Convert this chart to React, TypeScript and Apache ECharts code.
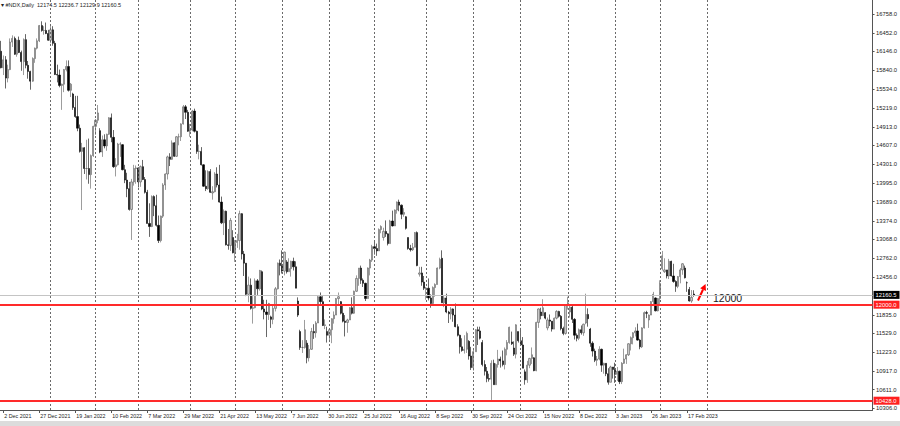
import React, { useEffect, useRef } from "react";
import * as echarts from "echarts";

// ---- categories ----
const FIRST_DAY = "2021-12-01";
const TOTAL_SLOTS = 388;
const HOLIDAYS = [
  "2021-12-24", "2022-01-17", "2022-02-21", "2022-04-15", "2022-05-30", "2022-06-20",
  "2022-07-04", "2022-09-05", "2022-11-24", "2022-12-26", "2023-01-02", "2023-01-16", "2023-02-20",
];
const MONTHS = ["Jan", "Feb", "Mar", "Apr", "May", "Jun", "Jul", "Aug", "Sep", "Oct", "Nov", "Dec"];

// ---- OHLC values [open, high, low, close] ----
const dec2021 = [
  [16150, 16320, 15870, 15880], [15880, 16080, 15760, 16010], [16010, 16070, 15540, 15710],
  [15710, 15930, 15640, 15850], [15850, 16360, 15840, 16300], [16300, 16410, 16220, 16360],
  [16360, 16390, 16090, 16100], [16100, 16340, 16060, 16330], [16330, 16390, 16120, 16130],
  [16130, 16160, 15830, 15980], [15980, 16360, 15760, 16340], [16340, 16430, 15870, 15920],
  [15920, 15990, 15700, 15820], [15820, 15830, 15520, 15660], [15660, 16050, 15650, 16030],
  [16030, 16210, 15960, 16200], [16200, 16360, 16180, 16320], [16320, 16580, 16300, 16570],
  [16570, 16640, 16470, 16490], [16490, 16560, 16420, 16490], [16490, 16620, 16430, 16440],
  [16440, 16500, 16320, 16330],
];
const jan2022 = [
  [16330, 16580, 16280, 16500], [16500, 16560, 16240, 16280], [16280, 16320, 15760, 15770],
  [15770, 15930, 15640, 15760], [15760, 15850, 15560, 15590], [15590, 15620, 15190, 15610],
  [15610, 15860, 15480, 15850], [15850, 16000, 15820, 15900], [15900, 16000, 15490, 15510],
  [15510, 15630, 15400, 15610], [15450, 15470, 15190, 15230], [15230, 15420, 15060, 15080],
  [15080, 15420, 14840, 14890], [14890, 14950, 14490, 14510], [14510, 14650, 13550, 14570],
  [14570, 14580, 14140, 14230], [14230, 14700, 14050, 14230], [14230, 14720, 13980, 14130],
  [14130, 14460, 13900, 14440], [14440, 14930, 14420, 14920],
];
const feb2022 = [
  [14920, 15040, 14780, 15020], [15020, 15270, 14970, 15140], [14850, 14890, 14480, 14500],
  [14500, 14770, 14420, 14700], [14700, 14790, 14560, 14600], [14600, 14800, 14520, 14790],
  [14790, 15070, 14780, 15060], [15060, 15130, 14660, 14740], [14740, 14860, 14240, 14260],
  [14260, 14400, 14100, 14290], [14290, 14650, 14280, 14630], [14630, 14660, 14420, 14630],
  [14620, 14630, 14200, 14210], [14210, 14290, 13990, 14040], [14040, 14160, 13760, 13900],
  [13900, 14010, 13540, 13560], [13560, 14060, 13060, 14010], [14010, 14290, 13950, 14230],
  [14230, 14280, 13980, 14240],
];
const mar2022 = [
  [14240, 14250, 13920, 14010], [14010, 14280, 13930, 14260], [14260, 14370, 14040, 14050],
  [14050, 14090, 13820, 13840], [13840, 13880, 13330, 13330], [13330, 13660, 13110, 13280],
  [13280, 13790, 13270, 13770], [13770, 13790, 13450, 13620], [13620, 13800, 13280, 13300],
  [13300, 13460, 13010, 13050], [13050, 13460, 13020, 13450], [13450, 13990, 13420, 13960],
  [13960, 14150, 13880, 14140], [14140, 14440, 14050, 14420], [14420, 14480, 14270, 14380],
  [14380, 14690, 14370, 14650], [14650, 14660, 14420, 14430], [14430, 14760, 14420, 14750],
  [14750, 14800, 14610, 14750], [14750, 14970, 14680, 14960], [14960, 15270, 14950, 15240],
  [15240, 15270, 15040, 15150], [15150, 15190, 14830, 14840],
];
const apr2022 = [
  [14840, 14960, 14750, 14860], [14860, 15190, 14840, 15170], [15170, 15210, 14820, 14840],
  [14840, 14850, 14470, 14510], [14510, 14620, 14380, 14510], [14510, 14580, 14280, 14290],
  [14290, 14300, 13930, 13940], [13940, 14200, 13860, 13900], [13900, 14200, 13880, 14180],
  [14180, 14220, 13830, 13840], [13830, 13940, 13720, 13850], [13850, 14170, 13840, 14140],
  [14140, 14250, 13920, 13960], [13960, 14290, 13670, 13680], [13680, 13770, 13320, 13340],
  [13340, 13560, 13140, 13530], [13530, 13540, 12970, 12980], [12980, 13240, 12900, 12970],
  [12970, 13420, 12880, 13380], [13100, 13220, 12840, 12850],
];
const may2022 = [
  [12850, 13060, 12700, 13020], [13020, 13160, 12930, 13050], [13050, 13540, 12900, 13490],
  [13490, 13500, 12740, 12830], [12830, 12880, 12470, 12680], [12680, 12680, 12140, 12170],
  [12170, 12460, 12040, 12320], [12320, 12430, 11920, 11940], [11940, 12140, 11690, 11950],
  [11950, 12430, 11940, 12390], [12390, 12420, 12160, 12260], [12260, 12570, 12230, 12560],
  [12540, 12560, 11910, 11930], [11930, 12080, 11760, 11880], [11880, 12080, 11470, 11840],
  [11840, 12030, 11750, 12020], [11800, 11820, 11620, 11760], [11760, 11990, 11680, 11940],
  [11940, 12290, 11890, 12260], [12260, 12690, 12250, 12680], [12680, 12740, 12480, 12640],
];
const jun2022 = [
  [12640, 12890, 12510, 12550], [12550, 12870, 12480, 12860], [12700, 12730, 12510, 12540],
  [12540, 12760, 12540, 12590], [12590, 12720, 12460, 12710], [12710, 12770, 12560, 12620],
  [12620, 12710, 12270, 12270], [12060, 12120, 11800, 11830], [11560, 11590, 11260, 11300],
  [11300, 11420, 11210, 11300], [11300, 11750, 11280, 11590], [11370, 11420, 11040, 11130],
  [11130, 11340, 11070, 11270], [11270, 11620, 11260, 11560], [11560, 11680, 11440, 11540],
  [11540, 11730, 11460, 11700], [11700, 12140, 11700, 12130], [12130, 12200, 11980, 12050],
  [12050, 12140, 11650, 11660], [11660, 11760, 11600, 11670], [11560, 11640, 11380, 11500],
];
const jul2022 = [
  [11500, 11600, 11400, 11590], [11590, 11780, 11370, 11770], [11770, 11890, 11690, 11830],
  [11830, 12110, 11830, 12100], [12100, 12200, 11980, 12130], [12050, 12060, 11840, 11860],
  [11860, 11990, 11710, 11730], [11730, 11830, 11480, 11710], [11710, 11770, 11540, 11750],
  [11750, 11960, 11750, 11950], [11950, 12120, 11840, 11860], [11860, 12230, 11850, 12220],
  [12220, 12480, 12210, 12430], [12430, 12600, 12310, 12600], [12600, 12640, 12340, 12400],
  [12400, 12430, 12290, 12350], [12350, 12360, 12060, 12100], [12100, 12610, 12100, 12600],
  [12600, 12750, 12480, 12730], [12730, 12980, 12700, 12950],
];
const aug2022 = [
  [12950, 13050, 12820, 12920], [12920, 13000, 12800, 12880], [12880, 13250, 12880, 13230],
  [13230, 13300, 13170, 13280], [13100, 13260, 13050, 13200], [13200, 13380, 13110, 13160],
  [13160, 13170, 12970, 13000], [13000, 13390, 13000, 13370], [13370, 13540, 13280, 13290],
  [13290, 13560, 13290, 13550], [13550, 13690, 13490, 13680], [13680, 13720, 13530, 13630],
  [13630, 13640, 13400, 13480], [13480, 13580, 13440, 13510], [13440, 13450, 13230, 13250],
  [13100, 13100, 12900, 12920], [12920, 12980, 12870, 12900], [12900, 13010, 12880, 12940],
  [12940, 13190, 12940, 13180], [13180, 13200, 12630, 12640], [12500, 12620, 12460, 12520],
  [12520, 12620, 12310, 12370], [12370, 12470, 12240, 12270],
];
const sep2022 = [
  [12270, 12290, 12080, 12270], [12270, 12430, 12070, 12110], [12110, 12170, 11950, 12020],
  [12020, 12300, 11990, 12280], [12280, 12350, 12130, 12330], [12330, 12610, 12330, 12600],
  [12600, 12770, 12580, 12740], [12760, 12890, 12030, 12030], [12030, 12150, 11960, 12110],
  [12110, 12180, 11860, 11880], [11880, 11900, 11700, 11850], [11850, 11960, 11760, 11930],
  [11930, 11940, 11720, 11830], [11830, 12020, 11630, 11640], [11640, 11680, 11480, 11500],
  [11500, 11510, 11200, 11310], [11310, 11450, 11230, 11250], [11250, 11500, 11200, 11270],
  [11270, 11560, 11210, 11530], [11400, 11420, 11100, 11160], [11160, 11310, 10930, 10970],
];
const oct2022 = [
  [10970, 11260, 10920, 11230], [11230, 11600, 11230, 11590], [11590, 11640, 11340, 11570],
  [11570, 11640, 11430, 11450], [11380, 11420, 10990, 11020], [11020, 11090, 10840, 10910],
  [10910, 10980, 10730, 10790], [10790, 10870, 10740, 10780], [10780, 11090, 10440, 11040],
  [11040, 11100, 10690, 10690], [10690, 11040, 10690, 11020], [11020, 11260, 10970, 11110],
  [11110, 11150, 10970, 11080], [11080, 11250, 10990, 11020], [11020, 11300, 10940, 11270],
  [11270, 11420, 11170, 11380], [11380, 11640, 11360, 11630], [11390, 11560, 11340, 11360],
  [11290, 11400, 11160, 11190], [11190, 11680, 11120, 11670], [11560, 11560, 11380, 11410],
];
const nov2022 = [
  [11410, 11620, 11330, 11340], [11340, 11470, 10960, 10960], [10900, 10940, 10690, 10770],
  [10770, 11080, 10720, 11010], [11010, 11130, 10960, 11120], [11120, 11300, 11030, 11180],
  [11130, 11140, 10910, 10920], [10920, 11720, 10910, 11710], [11710, 11940, 11620, 11930],
  [11880, 11950, 11760, 11820], [11820, 12090, 11820, 11950], [11870, 11880, 11760, 11780],
  [11620, 11790, 11580, 11750], [11750, 11840, 11650, 11730], [11730, 11730, 11560, 11600],
  [11600, 11790, 11600, 11780], [11780, 11910, 11760, 11890], [11890, 11900, 11790, 11810],
  [11810, 11830, 11580, 11610], [11610, 11640, 11500, 11530], [11530, 12000, 11510, 11990],
];
const dec2022 = [
  [11990, 12130, 11920, 12030], [11880, 12000, 11790, 11960], [11960, 11980, 11700, 11760],
  [11760, 11780, 11430, 11500], [11500, 11530, 11400, 11450], [11450, 11610, 11420, 11590],
  [11590, 11660, 11510, 11540], [11540, 11690, 11490, 11680], [11700, 12180, 11680, 11840],
  [11840, 11940, 11640, 11770], [11600, 11620, 11310, 11370], [11370, 11400, 11150, 11240],
  [11240, 11280, 11060, 11090], [11090, 11160, 11000, 11110], [11110, 11320, 11090, 11270],
  [11270, 11280, 10900, 11010], [11010, 11050, 10870, 11040], [11040, 11040, 10830, 10870],
  [10870, 10960, 10690, 10730], [10730, 11000, 10730, 10980], [10980, 10980, 10790, 10940],
];
const jan2023 = [
  [10940, 11050, 10720, 10860], [10860, 10980, 10750, 10910], [10910, 10920, 10700, 10740],
  [10740, 11060, 10700, 11040], [11040, 11280, 11030, 11110], [11110, 11190, 11030, 11180],
  [11180, 11370, 11160, 11360], [11360, 11480, 11250, 11460], [11460, 11550, 11350, 11540],
  [11540, 11630, 11480, 11570], [11570, 11690, 11410, 11420], [11420, 11440, 11270, 11310],
  [11310, 11630, 11290, 11620], [11620, 11890, 11610, 11870], [11870, 11900, 11780, 11860],
  [11750, 11840, 11620, 11830], [11830, 12060, 11830, 12050], [12050, 12210, 12000, 12170],
  [12110, 12120, 11890, 11900], [11900, 12110, 11890, 12100],
];
const feb2023 = [
  [12100, 12400, 11980, 12350], [12590, 12880, 12560, 12800], [12540, 12760, 12520, 12570],
  [12570, 12570, 12430, 12470], [12470, 12750, 12420, 12710], [12710, 12720, 12460, 12470],
  [12470, 12670, 12360, 12380], [12380, 12400, 12210, 12300], [12300, 12470, 12270, 12460],
  [12460, 12600, 12350, 12570], [12570, 12680, 12490, 12670], [12600, 12640, 12430, 12440],
  [12360, 12380, 12210, 12360], [12250, 12290, 12050, 12060], [12060, 12240, 12030, 12120],
  [12174.5, 12236.7, 12129.9, 12160.5],
];

// ---- axis ticks and levels ----
const Y_TICKS = [
  16758, 16452, 16146, 15840, 15534, 15219, 14913, 14607, 14301, 13995, 13689, 13374,
  13068, 12762, 12456, 11835, 11529, 11223, 10917, 10611, 10306,
];
const Y_MIN = 10275.7;
const Y_MAX = 16988.9;
const SUPPORT_LEVEL = 12000;
const LOW_LEVEL = 10428;
const SYMBOL = "#NDX,Daily";
const LABEL_EVERY = 16;
const LABEL_OFFSET = 1;
const FUTURE_GRID_SHIFT = 2;

function buildDates(): string[] {
  const out: string[] = [];
  const d = new Date(FIRST_DAY + "T00:00:00Z");
  while (out.length < TOTAL_SLOTS) {
    const wd = d.getUTCDay();
    const s = d.toISOString().slice(0, 10);
    if (wd !== 0 && wd !== 6 && !HOLIDAYS.includes(s)) out.push(s);
    d.setUTCDate(d.getUTCDate() + 1);
  }
  return out;
}

function fmtDate(s: string): string {
  if (!s) return "";
  const [y, m, dd] = s.split("-");
  return `${parseInt(dd, 10)} ${MONTHS[parseInt(m, 10) - 1]} ${y}`;
}

export default function App() {
  const ref = useRef<HTMLDivElement>(null);
  useEffect(() => {
    if (!ref.current) return;
    const chart = echarts.init(ref.current, undefined, { renderer: "svg" });
    const dates = buildDates();
    const bars = [
      ...dec2021, ...jan2022, ...feb2022, ...mar2022, ...apr2022, ...may2022, ...jun2022,
      ...jul2022, ...aug2022, ...sep2022, ...oct2022, ...nov2022, ...dec2022, ...jan2023, ...feb2023,
    ];
    const lastIdx = bars.length - 1;
    const candles = bars.map((b) => [b[0], b[3], b[2], b[1]]);
    const last = bars[lastIdx];

    // month-start grid lines (future months are placed as the terminal extrapolates them)
    const monthStarts: number[] = [];
    for (let i = 1; i < dates.length; i++) {
      if (dates[i].slice(5, 7) !== dates[i - 1].slice(5, 7) && i <= lastIdx + 8) {
        monthStarts.push(i > lastIdx ? i + FUTURE_GRID_SHIFT : i);
      }
    }

    const showLabel = (idx: number) => idx % LABEL_EVERY === LABEL_OFFSET && idx <= lastIdx;
    const font = "Liberation Sans, Arial, sans-serif";
    const priceLabel = (bg: string, text: string) => ({
      show: true,
      position: "end",
      distance: 1,
      formatter: text,
      color: "#ffffff",
      backgroundColor: bg,
      fontSize: 5.8,
      fontFamily: font,
      padding: [1, 3, 1, 2],
    });

    chart.setOption({
      animation: false,
      backgroundColor: "#ffffff",
      grid: { left: -4.71, top: 0, width: 883.09, height: 410, containLabel: false },
      xAxis: {
        type: "category",
        data: dates,
        boundaryGap: true,
        axisLine: { show: true, onZero: false, lineStyle: { color: "#555555", width: 1 } },
        axisTick: { show: true, alignWithLabel: true, interval: showLabel, length: 3, lineStyle: { color: "#555555" } },
        axisLabel: {
          interval: showLabel,
          formatter: (v: string) => fmtDate(v),
          align: "left",
          fontSize: 5.3,
          fontFamily: font,
          color: "#222222",
          margin: 3,
          padding: [0, 0, 0, 1],
        },
        splitLine: { show: false },
      },
      yAxis: {
        type: "value",
        position: "right",
        min: Y_MIN,
        max: Y_MAX,
        splitLine: { show: false },
        axisLine: { show: true, lineStyle: { color: "#555555", width: 1 } },
        axisTick: { show: true, customValues: Y_TICKS, length: 2, lineStyle: { color: "#555555" } },
        axisLabel: {
          customValues: Y_TICKS,
          formatter: (v: number) => v.toFixed(1),
          fontSize: 5.8,
          fontFamily: font,
          color: "#222222",
          margin: 3.5,
        },
      },
      series: [
        {
          type: "line",
          data: [],
          z: 1,
          silent: true,
          markLine: {
            silent: true,
            symbol: ["none", "none"],
            label: { show: false },
            lineStyle: { color: "#6a6a6a", width: 1, type: [2, 2] },
            data: monthStarts.map((i) => ({ xAxis: i })),
          },
        },
        {
          type: "candlestick",
          data: candles,
          z: 2,
          barWidth: 1.7,
          itemStyle: {
            color: "#c8c8c8",
            color0: "#000000",
            borderColor: "#5a5a5a",
            borderColor0: "#000000",
            borderWidth: 0.6,
          },
        },
        {
          type: "line",
          data: [],
          z: 3,
          silent: true,
          markLine: {
            silent: true,
            symbol: ["none", "none"],
            data: [
              { yAxis: last[3], lineStyle: { color: "#c4c4c4", width: 1, type: "solid" }, label: priceLabel("#000000", last[3].toFixed(1)) },
              { yAxis: SUPPORT_LEVEL, lineStyle: { color: "#ff2a2a", width: 2, type: "solid" }, label: priceLabel("#ff2020", SUPPORT_LEVEL.toFixed(1)) },
              { yAxis: LOW_LEVEL, lineStyle: { color: "#ff2a2a", width: 2, type: "solid" }, label: priceLabel("#ff2020", LOW_LEVEL.toFixed(1)) },
            ],
          },
        },
      ],
      graphic: [
        {
          type: "text",
          left: 1,
          top: 2,
          style: {
            text: `\u25BE ${SYMBOL}  ${last.map((v) => v.toFixed(1)).join(" ")}`,
            fontSize: 5.5,
            fontFamily: font,
            fill: "#222222",
          },
        },
        {
          type: "text",
          x: 713,
          y: 292,
          style: { text: String(SUPPORT_LEVEL), fontSize: 10.5, fontFamily: font, fill: "#1a1a1a" },
        },
        {
          type: "line",
          shape: { x1: 698, y1: 300.5, x2: 703, y2: 289.5 },
          style: { stroke: "#ff0000", lineWidth: 2 },
        },
        {
          type: "polygon",
          shape: { points: [[705.6, 284], [706, 291], [700.2, 288.3]] },
          style: { fill: "#ff0000" },
        },
        {
          type: "rect",
          shape: { x: 0, y: 421, width: 900, height: 5 },
          style: { fill: "#dcdcdc" },
        },
      ],
    });
    return () => chart.dispose();
  }, []);

  return (
    <div
      ref={ref}
      style={{ position: "fixed", left: 0, top: 0, width: 900, height: 426, background: "#ffffff" }}
    />
  );
}
